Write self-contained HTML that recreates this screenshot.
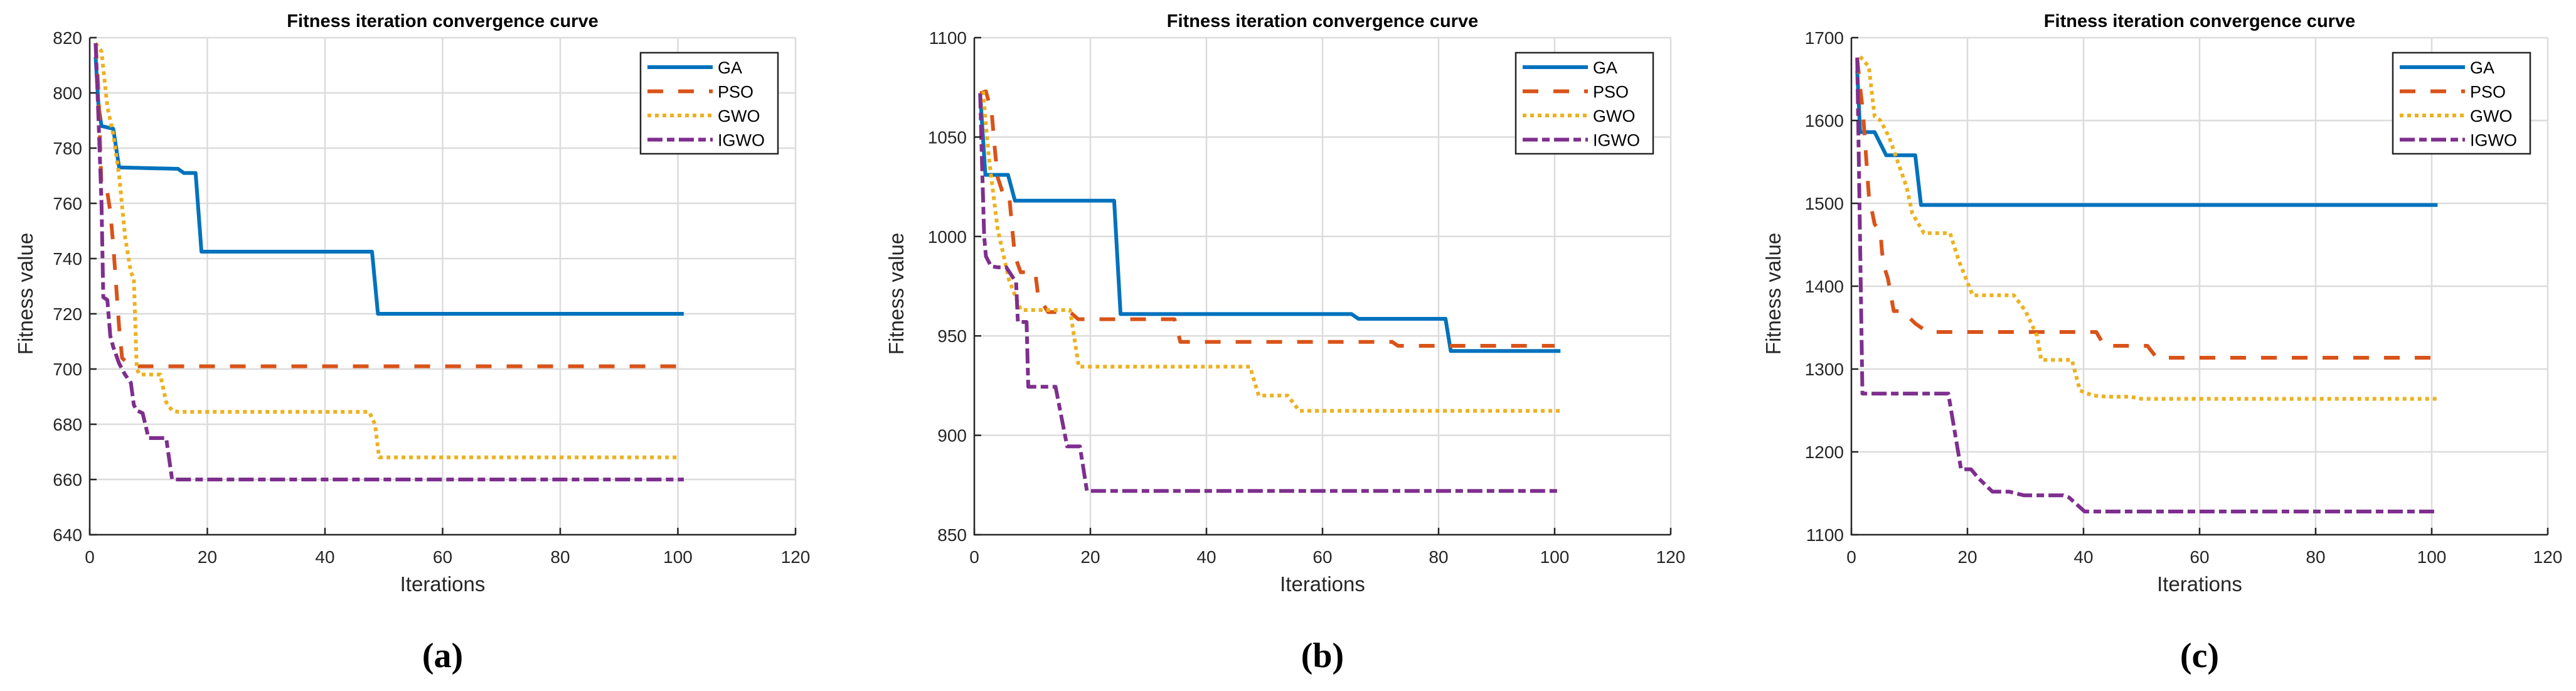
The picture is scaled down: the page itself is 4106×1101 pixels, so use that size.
<!DOCTYPE html>
<html><head><meta charset="utf-8">
<style>
html,body{margin:0;padding:0;background:#fff;}
svg{display:block;}
text{font-family:"Liberation Sans",Arial,sans-serif;}
</style></head>
<body>
<svg id="fig" width="4106" height="1101" viewBox="0 0 4106 1101" xmlns="http://www.w3.org/2000/svg"></svg>
<script>
// ---------- data (iteration breakpoints & fitness values) ----------
// Panel (a)
const a_GA_it   = [1,1.5,2,4,5,15,16,18,19,48,49,101];
const a_GA_val  = [813,795,788,787,773,772.5,771,771,742.5,742.5,720,720];
const a_PSO_it  = [1,1.5,2,3,3.5,4,4.5,5,5.5,7,100];
const a_PSO_val = [818,800,765,764,757,745,730,715,704,701,701];
const a_GWO_it  = [1,2,3,4,5,6,7,7.5,8,8.5,12,13,14,15,47.5,48.5,49.2,100];
const a_GWO_val = [818,815,795,785,770,748,735,733,700,698,698,688,685,684.5,684.5,680,668,668];
const a_IGWO_it  = [1,1.5,2,2.3,3,3.5,4,5,6,7,7.5,8,9,10,13,14,101];
const a_IGWO_val = [818,790,760,726,725,712,708,702,698,695,687,685,684,675,675,660,660];
// Panel (b)
const b_GA_it   = [1,1.9,5.8,7,24.1,25.2,65,66.2,81.2,82.1,101];
const b_GA_val  = [1072,1031,1031,1018,1018,961,961,958.6,958.6,942.4,942.4];
const b_PSO_it  = [1,2,3,3.5,4,5,6,6.5,7,8,10.5,11,12.7,16.5,17.9,34.5,35.5,72,73,100];
const b_PSO_val = [1072,1073,1062,1045,1030,1021,1021,1005,990,982,982,970,962,962,958.4,958.4,947,947,945,945];
const b_GWO_it  = [1.5,2.5,4,5,6,8,16.5,18,47.5,49,54,56,101];
const b_GWO_val = [1073,1040,1004,991,978,963,963,934.5,934.5,920,920,912.3,912.3];
const b_IGWO_it  = [1,1.3,1.7,2,2.9,4,5.5,7.2,7.5,9,9.3,14,16,18.2,19.4,101];
const b_IGWO_val = [1072,1040,1000,990,985,984.5,984.5,977,957,957,924.4,924.4,894.4,894.4,872,872];
// Panel (c)
const c_GA_it   = [1,1.5,4,6,11,12,101];
const c_GA_val  = [1660,1586,1586,1558,1558,1498,1498];
const c_PSO_it  = [1,1.5,2,2.5,3,4,5,5.3,5.8,6.3,7.3,8.8,11,13.1,42.2,43.6,51,52.6,100];
const c_PSO_val = [1675,1640,1610,1560,1510,1475,1465,1440,1420,1409,1370,1370,1355,1344.7,1344.7,1328,1328,1313.6,1313.6];
const c_GWO_it  = [1.5,3,4,5,6.5,8,9.5,10.5,12.5,17,18.5,20.9,28,30,32,32.7,38,39.4,41.6,44,48,50,101];
const c_GWO_val = [1677,1665,1605,1600,1580,1550,1520,1488,1464,1464,1431,1389,1389,1370,1340,1311,1311,1274,1268,1266.6,1266.6,1264,1264];
const c_IGWO_it  = [1,1.9,16.7,18.9,20.6,22,24.3,27.2,29.7,36.5,37.5,40.2,101];
const c_IGWO_val = [1676,1270.4,1270.4,1179,1179,1167.5,1152,1152,1147.6,1147.6,1145,1128,1128];

const xTicks = [0,20,40,60,80,100,120];
const a_yTicks = [640,660,680,700,720,740,760,780,800,820];
const b_yTicks = [850,900,950,1000,1050,1100];
const c_yTicks = [1100,1200,1300,1400,1500,1600,1700];
const seriesNames = ["GA","PSO","GWO","IGWO"];

// ---------- style ----------
const colors = {GA:"#0072BD",PSO:"#D95319",GWO:"#EDB120",IGWO:"#7E2F8E"};
const dashes = {GA:"none",PSO:"25 24",GWO:"6 6",IGWO:"24 7 12 7"};

const NS = "http://www.w3.org/2000/svg";
const svg = document.getElementById("fig");
function mk(tag, attrs, parent){
  const e = document.createElementNS(NS, tag);
  for (const k in attrs) e.setAttribute(k, attrs[k]);
  (parent||svg).appendChild(e);
  return e;
}

const panels = [
  {key:"a", L:143, R:1268, yTicks:a_yTicks, ylabX:40, data:{GA:[a_GA_it,a_GA_val],PSO:[a_PSO_it,a_PSO_val],GWO:[a_GWO_it,a_GWO_val],IGWO:[a_IGWO_it,a_IGWO_val]}},
  {key:"b", L:1553, R:2663, yTicks:b_yTicks, ylabX:1428, data:{GA:[b_GA_it,b_GA_val],PSO:[b_PSO_it,b_PSO_val],GWO:[b_GWO_it,b_GWO_val],IGWO:[b_IGWO_it,b_IGWO_val]}},
  {key:"c", L:2951, R:4061, yTicks:c_yTicks, ylabX:2826, data:{GA:[c_GA_it,c_GA_val],PSO:[c_PSO_it,c_PSO_val],GWO:[c_GWO_it,c_GWO_val],IGWO:[c_IGWO_it,c_IGWO_val]}}
];
const T = 60, B = 852;

panels.forEach(p => {
  const g = mk("g", {});
  
  
  const ymin = p.yTicks[0], ymax = p.yTicks[p.yTicks.length-1];
  const xs = v => p.L + (v - xTicks[0]) / (xTicks[xTicks.length-1] - xTicks[0]) * (p.R - p.L);
  const ys = v => B - (v - ymin) / (ymax - ymin) * (B - T);

  // grid
  const grid = mk("g", {stroke:"#dcdcdc","stroke-width":2.5}, g);
  
  
  xTicks.forEach(t => { if (t > xTicks[0]) mk("line",{x1:xs(t),x2:xs(t),y1:T,y2:B},grid); });
  p.yTicks.forEach(t => { if (t > ymin) mk("line",{x1:p.L,x2:p.R,y1:ys(t),y2:ys(t)},grid); });

  // series
  seriesNames.forEach(s => {
    const [it, val] = p.data[s];
    const pts = it.map((v,i) => xs(v).toFixed(1) + "," + ys(val[i]).toFixed(1)).join(" ");
    const pl = mk("polyline", {points:pts, fill:"none", stroke:colors[s], "stroke-width":6, "stroke-dasharray":dashes[s], "stroke-linejoin":"round"}, g);
    
    
  });

  // axes
  const ax = mk("g", {stroke:"#262626","stroke-width":2.5, fill:"none"}, g);
  
  
  mk("line",{x1:p.L,x2:p.L,y1:T,y2:B+1},ax);
  mk("line",{x1:p.L-1,x2:p.R,y1:B,y2:B},ax);
  xTicks.forEach(t => mk("line",{x1:xs(t),x2:xs(t),y1:B,y2:B-11},ax));
  p.yTicks.forEach(t => mk("line",{x1:p.L,x2:p.L+11,y1:ys(t),y2:ys(t)},ax));

  // tick labels
  xTicks.forEach(t => {
    const tx = mk("text",{x:xs(t), y:B+45, "text-anchor":"middle","font-size":28, fill:"#262626"}, g);
    tx.textContent = t;
    
    
  });
  p.yTicks.forEach(t => {
    const ty = mk("text",{x:p.L-12, y:ys(t)+10, "text-anchor":"end","font-size":28, fill:"#262626"}, g);
    ty.textContent = t;
    
    
  });

  // labels
  const cx = (p.L + p.R)/2;
  const title = mk("text",{x:cx, y:43, "text-anchor":"middle","font-size":29,"font-weight":"bold", fill:"#000"}, g);
  title.textContent = "Fitness iteration convergence curve";
  
  
  const xl = mk("text",{x:cx, y:942, "text-anchor":"middle","font-size":33, fill:"#262626"}, g);
  xl.textContent = "Iterations";
  
  
  const yl = mk("text",{x:p.ylabX, y:(T+B)/2, "text-anchor":"middle","font-size":33, fill:"#262626", transform:"rotate(-90 "+(p.ylabX+12)+" "+((T+B)/2)+")"}, g);
  yl.textContent = "Fitness value";
  
  
  const cap = mk("text",{x:cx, y:1063, "text-anchor":"middle","font-size":56,"font-weight":"bold", fill:"#000", style:"font-family:'Liberation Serif',serif"}, g);
  cap.textContent = "(" + p.key + ")";
  
  

  // legend
  const lx = p.R - 247, ly = 84;
  const lg = mk("g", {}, g);
  
  
  mk("rect",{x:lx, y:ly, width:219, height:161, fill:"#fff", stroke:"#262626","stroke-width":2.5}, lg);
  seriesNames.forEach((s,i) => {
    const ry = ly + 23 + i*38.5;
    const ll = mk("line",{x1:lx+11, x2:lx+115, y1:ry, y2:ry, stroke:colors[s], "stroke-width":6, "stroke-dasharray":dashes[s]}, lg);
    
    
    const lt = mk("text",{x:lx+123, y:ry+10, "font-size":27, fill:"#000"}, lg);
    lt.textContent = s;
    
    
  });
});
</script>
</body></html>
